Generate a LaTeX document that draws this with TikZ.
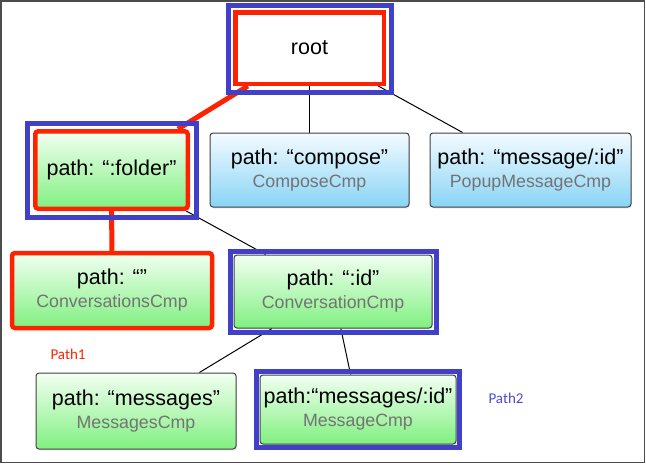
\documentclass[tikz,border=0pt]{standalone}
\usepackage{fontspec}
\setmainfont{Liberation Sans}
\newfontfamily\notefont{Carlito}
\usetikzlibrary{shadows,backgrounds}
\definecolor{hlred}{HTML}{FF2200}
\definecolor{hlblue}{HTML}{4040C8}
\definecolor{pathblue}{HTML}{4B4BD6}
\definecolor{subgray}{HTML}{737373}
\definecolor{greentop}{HTML}{F2FFF2}
\definecolor{greenbot}{HTML}{80F080}
\definecolor{bluetop}{HTML}{F4FBFF}
\definecolor{bluebot}{HTML}{88D4F6}
\newcommand{\cmpname}[1]{{\color{subgray}\fontsize{17.8}{23}\selectfont #1}}

\begin{document}
\begin{tikzpicture}[x=1pt, y=-1pt, every node/.style={font=\fontsize{21.5}{23}\selectfont},
  route/.style={draw=black!75, line width=1pt, rounded corners=3pt, align=center, inner sep=0pt,
    drop shadow={shadow xshift=1pt, shadow yshift=-1.5pt, opacity=0.15}},
  greenbox/.style={route, top color=greentop, bottom color=greenbot},
  bluebox/.style={route, top color=bluetop, bottom color=bluebot},
  redmark/.style={draw=hlred, line width=4.5pt},
  bluemark/.style={draw=hlblue, line width=5pt},
  link/.style={draw=black, line width=1pt},
  redlink/.style={draw=hlred, line width=5pt}]
\useasboundingbox (0,0) rectangle (646,464);
\draw[black!70, line width=1.5pt] (1,1) rectangle (644.5,462.5); % frame round the whole picture

% top row
\node[draw=hlred, line width=4.5pt, fill=white, minimum width=148.5pt, minimum height=71.5pt] (root) at (309.5,48) {root};
% second row
\node[greenbox, redmark, minimum width=152.5pt, minimum height=77.5pt] (folder) at (111.5,170) {path: “:folder”};
\node[bluebox, minimum width=199pt, minimum height=74pt] (compose) at (309.5,170) {path: “compose”\\ \cmpname{ComposeCmp}};
\node[bluebox, minimum width=201pt, minimum height=74pt] (popup) at (530.5,170) {path: “message/:id”\\ \cmpname{PopupMessageCmp}};
% third row
\node[greenbox, redmark, minimum width=200pt, minimum height=75pt] (convs) at (112,290.5) {path: “”\\ \cmpname{ConversationsCmp}};
\node[greenbox, minimum width=198pt, minimum height=73pt] (conv) at (333,291.5) {path: “:id”\\ \cmpname{ConversationCmp}};
% bottom row
\node[greenbox, minimum width=200pt, minimum height=76pt] (msgs) at (136,411) {path: “messages”\\ \cmpname{MessagesCmp}};
\node[greenbox, minimum width=196pt, minimum height=69pt] (msg) at (358,409.5) {path:“messages/:id”\\ \cmpname{MessageCmp}};

\begin{scope}[on background layer]
\draw[link] (root) -- (compose);
\draw[link] (root) -- (popup);
\draw[link] (folder) -- (conv);
\draw[link] (conv) -- (msgs);
\draw[link] (conv) -- (msg);
\draw[redlink] (root) -- (folder); % Path1 goes root -> :folder -> ""
\draw[redlink] (folder) -- (convs);
\end{scope}

% blue frames of Path2
\draw[bluemark] ([shift={(-5pt,5pt)}]root.north west) rectangle ([shift={(5pt,-6pt)}]root.south east);
\draw[bluemark] ([shift={(-6pt,6pt)}]folder.north west) rectangle ([shift={(6pt,-6pt)}]folder.south east);
\draw[bluemark] ([shift={(-3.5pt,3.5pt)}]conv.north west) rectangle ([shift={(3.5pt,-3.5pt)}]conv.south east);
\draw[bluemark] ([shift={(-3pt,3pt)}]msg.north west) rectangle ([shift={(3pt,-3pt)}]msg.south east);

\node[font=\notefont\fontsize{15}{18}\selectfont, text=hlred] (path1) at (68,354) {Path1};
\node[font=\notefont\fontsize{15}{18}\selectfont, text=pathblue] (path2) at (506,398) {Path2};
\end{tikzpicture}
\end{document}
